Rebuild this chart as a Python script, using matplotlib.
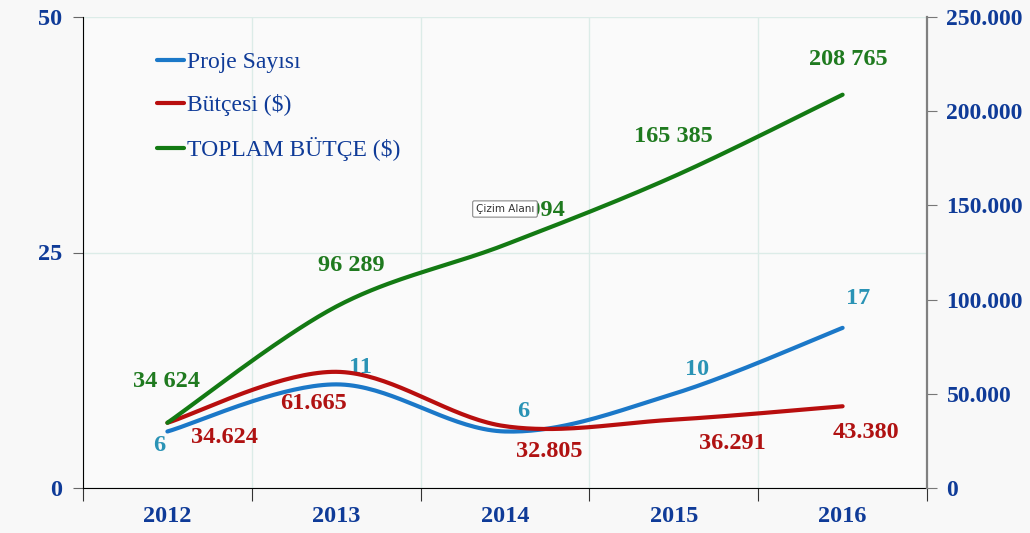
import numpy as np
import matplotlib
matplotlib.use("Agg")
import matplotlib.pyplot as plt
from matplotlib.ticker import FuncFormatter

# data
years = ["2012", "2013", "2014", "2015", "2016"]
proje_sayisi = [6, 11, 6, 10, 17]
butcesi = [34624, 61665, 32805, 36291, 43380]
toplam_butce = [34624, 96289, 129094, 165385, 208765]

BLUE = "#1b78c8"
RED = "#b80e0e"
GREEN = "#137a13"
BLUE_TXT = "#2a93b5"
RED_TXT = "#b01212"
GREEN_TXT = "#1f7a1f"
AXIS_TXT = "#0f3b98"
SERIF = "Liberation Serif"


def smooth(x, y, n=40):
    """Excel-style smoothed line: Catmull-Rom segments drawn as cubic Beziers."""
    x = np.asarray(x, float)
    y = np.asarray(y, float)
    px = np.concatenate([[x[0]], x, [x[-1]]])
    py = np.concatenate([[y[0]], y, [y[-1]]])
    t = np.linspace(0, 1, n)[:, None]
    xs, ys = [], []
    for i in range(1, len(x)):
        p0 = np.array([px[i], py[i]])
        p3 = np.array([px[i + 1], py[i + 1]])
        c1 = p0 + (p3 - np.array([px[i - 1], py[i - 1]])) / 6
        c2 = p3 - (np.array([px[i + 2], py[i + 2]]) - p0) / 6
        b = ((1 - t) ** 3) * p0 + 3 * ((1 - t) ** 2) * t * c1 + 3 * (1 - t) * t ** 2 * c2 + t ** 3 * p3
        xs.append(b[:, 0])
        ys.append(b[:, 1])
    return np.concatenate(xs), np.concatenate(ys)


fig = plt.figure(figsize=(10.3, 5.33), dpi=100, facecolor="#f8f8f8")
ax = fig.add_axes([83 / 1030, 1 - 488 / 533, 844 / 1030, 471 / 533])
ax.set_facecolor("#fafafa")
ax2 = ax.twinx()

xpos = np.arange(len(years))

# lines
bx, by = smooth(xpos, proje_sayisi)
l1, = ax.plot(bx, by, color=BLUE, lw=3, solid_capstyle="round", label="Proje Sayısı", zorder=3)
rx, ry = smooth(xpos, butcesi)
l2, = ax2.plot(rx, ry, color=RED, lw=3, solid_capstyle="round", label="Bütçesi ($)", zorder=3)
gx, gy = smooth(xpos, toplam_butce)
l3, = ax2.plot(gx, gy, color=GREEN, lw=3, solid_capstyle="round", label="TOPLAM BÜTÇE ($)", zorder=3)

# axes ranges / ticks
ax.set_xlim(-0.5, len(years) - 0.5)
ax.set_ylim(0, 50)
ax2.set_ylim(0, 250000)
ax.set_yticks([0, 25, 50])
ax2.set_yticks(np.arange(0, 250001, 50000))
ax2.yaxis.set_major_formatter(FuncFormatter(lambda v, p: "0" if v == 0 else f"{int(v):,}".replace(",", ".")))

ax.set_xticks(np.arange(-0.5, len(years), 1.0))
ax.set_xticklabels([])
ax.set_xticks(xpos, minor=True)
ax.set_xticklabels(years, minor=True)
ax.tick_params(axis="x", which="major", direction="out", length=9, color="#333333")
ax.tick_params(axis="x", which="minor", length=0, pad=13)
ax.tick_params(axis="y", direction="out", length=7, color="#666666", pad=8)
ax2.tick_params(axis="y", direction="out", length=7, color="#777777", pad=7)

for lab in ax.get_xticklabels(minor=True) + ax.get_yticklabels():
    lab.set_fontfamily(SERIF)
    lab.set_fontweight("bold")
    lab.set_fontsize(17.5)
    lab.set_color(AXIS_TXT)
for lab in ax2.get_yticklabels():
    lab.set_fontfamily(SERIF)
    lab.set_fontweight("bold")
    lab.set_fontsize(17)
    lab.set_color(AXIS_TXT)

ax.grid(axis="x", which="major", color="#dcece8", lw=1)
ax.grid(axis="y", color="#dcece8", lw=1)
ax.set_axisbelow(True)

for a in (ax, ax2):
    a.spines["top"].set_visible(False)
ax.spines["left"].set_color("black")
ax.spines["bottom"].set_color("black")
ax.spines["right"].set_visible(False)
ax2.spines["left"].set_visible(False)
ax2.spines["bottom"].set_visible(False)
ax2.spines["right"].set_color("#808080")
ax2.spines["right"].set_linewidth(1.6)

# data labels (offsets in pixels)
lab_kw = dict(textcoords="offset pixels", ha="center", va="center",
              fontfamily=SERIF, fontweight="bold", fontsize=17.5, zorder=5)
blue_off = [(-8, -14), (24, 17), (18, 20), (23, 24), (16, 29)]
for x, v, off in zip(xpos, proje_sayisi, blue_off):
    ax.annotate(str(v), (x, v), xytext=off, color=BLUE_TXT, **lab_kw)
red_off = [(57, -15), (-23, -32), (44, -25), (59, -24), (23, -26)]
for x, v, off in zip(xpos, butcesi, red_off):
    ax2.annotate(f"{v:,}".replace(",", "."), (x, v), xytext=off, color=RED_TXT, **lab_kw)
green_off = [(-1, 41), (15, 41), (20, 34), (0, 40), (6, 35)]
for x, v, off in zip(xpos, toplam_butce, green_off):
    ax2.annotate(f"{v:,}".replace(",", " "), (x, v), xytext=off, color=GREEN_TXT, **lab_kw)

# legend
leg = fig.legend(handles=[l1, l2, l3], loc="upper left", bbox_to_anchor=(136 / 1030, 1 - 30 / 533),
                 frameon=False, handlelength=1.15, handletextpad=0.12, labelspacing=0.9,
                 prop={"family": SERIF, "size": 17})
for t in leg.get_texts():
    t.set_color(AXIS_TXT)

# hover tooltip visible in the screenshot
fig.text(505 / 1030, 1 - 209 / 533, "Çizim Alanı", fontsize=7.5, family="DejaVu Sans",
         color="#333333", ha="center", va="center", zorder=10,
         bbox=dict(boxstyle="round,pad=0.3,rounding_size=0.15", fc="white", ec="#888888", lw=0.8))

fig.savefig("out.png", dpi=100, facecolor=fig.get_facecolor())
